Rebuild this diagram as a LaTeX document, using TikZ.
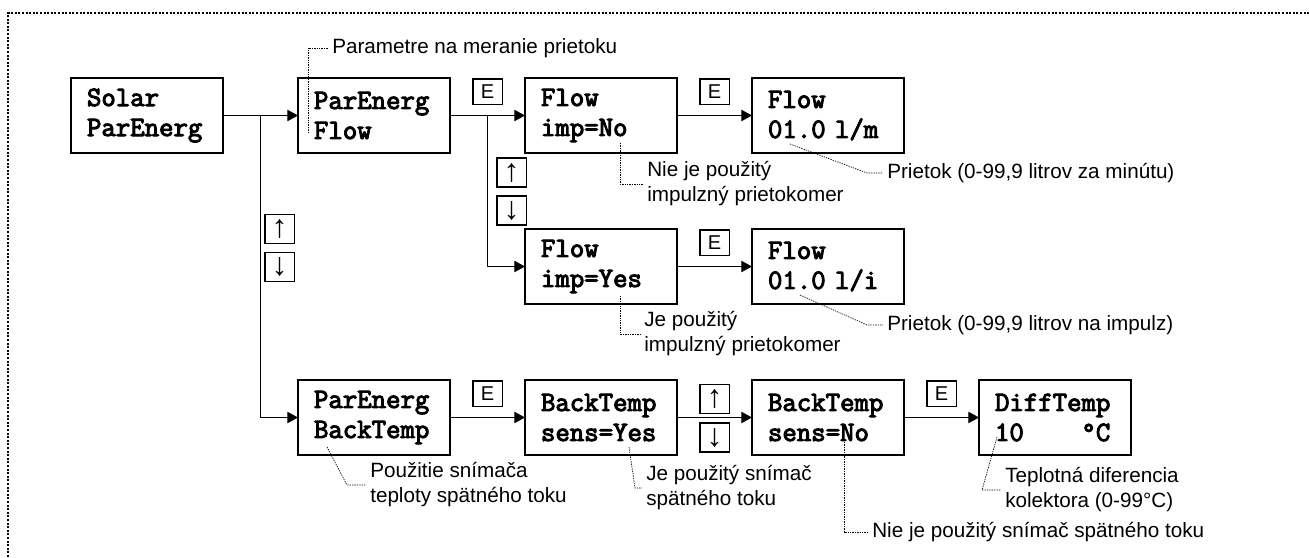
\documentclass[tikz,border=0pt]{standalone}
\usepackage{fontspec}
\setmainfont{Liberation Sans}
\newfontfamily\lcdfont{Latin Modern Mono}[AutoFakeBold=3.6]
\usetikzlibrary{positioning}
\usetikzlibrary{calc}
\usetikzlibrary{arrows.meta}

\begin{document}
\begin{tikzpicture}[x=0.75pt,y=-0.75pt]
  % \draw (0,0) grid[step=100] (1309,557);

  \def\gap{56.25pt}
  \def\vgap{57pt}
  \tikzset{screen/.style={draw, line width=1.5pt, outer sep=0pt, minimum height=56.25pt, text width=90pt, inner xsep=12pt, align=left, font=\lcdfont\bfseries\fontsize{21pt}{22.5pt}\selectfont}}
  \tikzset{key/.style={draw, line width=1pt, inner sep=0pt, minimum width=22pt, minimum height=19pt, font=\fontsize{15pt}{17pt}\selectfont}}
  \tikzset{arrow key/.style={key, minimum height=21.75pt, font=\fontsize{24pt}{24pt}\selectfont}}
  \tikzset{link/.style={line width=0.75pt, -{Triangle[length=8pt,width=8.5pt]}}}
  \tikzset{leader/.style={line width=0.5pt, dash pattern=on 1pt off 0.8pt}}
  \tikzset{note/.style={anchor=west, align=left, inner xsep=3pt, inner ysep=0pt, font=\fontsize{15.5pt}{18.75pt}\selectfont}}
  \tikzset{frame/.style={line width=1.5pt, dash pattern=on 1.5pt off 1.2pt}}

  \useasboundingbox (0,0) rectangle (1309,557);
  \draw[frame] (8,557) -- (8,13) -- (1309,13);

  % screens
  \node[screen] (solar) at (147,115.5) {Solar\\ParEnerg};
  \node[screen, right=\gap of solar] (flowpar) {ParEnerg\\Flow};
  \node[screen, right=\gap of flowpar] (impno) {Flow\\imp=No};
  \node[screen, right=\gap of impno] (flowlm) {Flow\\01.0 l/m};
  \node[screen, below=\vgap of impno] (impyes) {Flow\\imp=Yes};
  \node[screen, below=\vgap of flowlm] (flowli) {Flow\\01.0 l/i};
  \node[screen, below=\vgap of impyes] (sensyes) {BackTemp\\sens=Yes};
  \node[screen, left=\gap of sensyes] (backpar) {ParEnerg\\BackTemp};
  \node[screen, right=\gap of sensyes] (sensno) {BackTemp\\sens=No};
  \node[screen, right=\gap of sensno] (difftemp) {DiffTemp\\10\phantom{0000}°C};
  %
  %
  \draw[link] (solar) -- (flowpar);
  \draw[link] ($(solar.east)!0.5!(flowpar.west)$) |- (backpar.west);
  \draw[link] (flowpar) -- (impno);
  \draw[link] ($(flowpar.east)!0.5!(impno.west)$) |- (impyes.west);
  \draw[link] (impno) -- (flowlm);
  \draw[link] (impyes) -- (flowli);
  \draw[link] (backpar) -- (sensyes);
  \draw[link] (sensyes) -- (sensno);
  \draw[link] (sensno) -- (difftemp);

  % keys
  \node[key, above=8pt] (e1) at ($(flowpar.east)!0.5!(impno.west)$) {E};
  \node[key, above=8pt] (e2) at ($(impno.east)!0.5!(flowlm.west)$) {E};
  \node[key, above=8pt] (e3) at ($(impyes.east)!0.5!(flowli.west)$) {E};
  \node[key, above=8pt] (e4) at ($(backpar.east)!0.5!(sensyes.west)$) {E};
  \node[key, above=8pt] (e5) at ($(sensno.east)!0.5!(difftemp.west)$) {E};
  \node[arrow key] (up1) at (279.5,229) {↑};
  \node[arrow key] (down1) at (279.5,267) {↓};
  \node[arrow key] (up2) at (511.5,172.5) {↑};
  \node[arrow key] (down2) at (511.5,210.5) {↓};
  \node[arrow key] (up3) at (714.5,399) {↑};
  \node[arrow key] (down3) at (714.5,437.5) {↓};

  % notes
  \coordinate (p1) at (308,133);
  \node[note] (n1) at (328,48) {Parametre na meranie prietoku};
  \draw[leader] (p1) |- (n1.west);

  \coordinate (p2) at (620,143);
  \node[note] (n2) at (643,184) {Nie je použitý\\impulzný prietokomer};
  \draw[leader] (p2) |- (n2.west);

  \coordinate (p3) at (790,144);
  \coordinate (q3) at (867,173);
  \node[note] (n3) at (883,173) {Prietok (0-99,9 litrov za minútu)};
  \draw[leader] (p3) -- (q3) -- (n3.west);

  \coordinate (p4) at (620,296);
  \node[note] (n4) at (640,334) {Je použitý\\impulzný prietokomer};
  \draw[leader] (p4) |- (n4.west);

  \coordinate (p5) at (800,295);
  \coordinate (q5) at (867,325);
  \node[note] (n5) at (883,325) {Prietok (0-99,9 litrov na impulz)};
  \draw[leader] (p5) -- (q5) -- (n5.west);

  \coordinate (p6) at (327,447);
  \coordinate (q6) at (347,485);
  \node[note] (n6) at (366,485) {Použitie snímača\\teploty spätného toku};
  \draw[leader] (p6) -- (q6) -- (n6.west);

  \coordinate (p7) at (629,447);
  \coordinate (q7) at (635,488);
  \node[note] (n7) at (642,488) {Je použitý snímač\\spätného toku};
  \draw[leader] (p7) -- (q7) -- (n7.west);

  \coordinate (p8) at (844,442);
  \node[note] (n8) at (868,532) {Nie je použitý snímač spätného toku};
  \draw[leader] (p8) |- (n8.west);

  \coordinate (p9) at (997,437);
  \coordinate (q9) at (982,490);
  \node[note] (n9) at (1001,490) {Teplotná diferencia\\kolektora (0-99°C)};
  \draw[leader] (p9) -- (q9) -- (n9.west);
\end{tikzpicture}
\end{document}
